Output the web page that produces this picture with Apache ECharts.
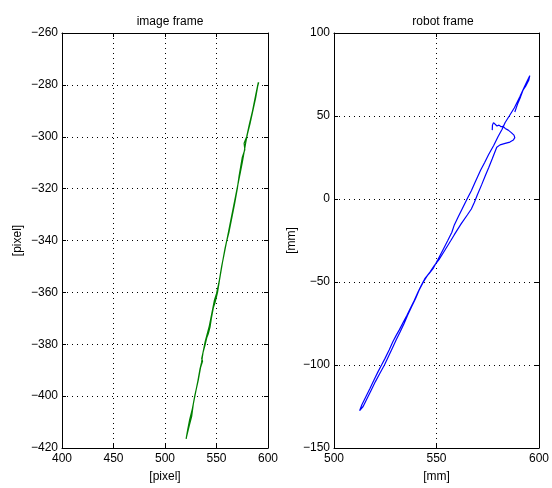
<!DOCTYPE html>
<html>
<head>
<meta charset="utf-8">
<script src="https://cdn.jsdelivr.net/npm/echarts@6/dist/echarts.min.js"></script>
<style>
html,body{margin:0;padding:0;background:#fff;}
#c{width:552px;height:488px;}
</style>
</head>
<body>
<div id="c"></div>
<script>
// ---- Left subplot: image frame (pixel) ----
const imgX = [590.6,588,585,582,579.3,576.8,577.5,575,572,570.2,567.5,565,562,560,558.3,556,553,551,548.5,546.9,545,543.7,542,540.5,538.8,537,535.6,536.5,534.5,532.3,530.5,529.1,527.5,525.9,523.5,521,520.5,
  522,524,526.5,528.5,530,532,534,535.5,537,539,541,543,544.5,546,548,550,552.5,555,557,559,561,563,566,568.5,571,573,575,577,578.5,580,582.5,585,588,590,591];
const imgY = [-279,-284,-290,-295,-300,-302.5,-305,-308,-315,-320,-326,-331,-337,-340,-343,-348,-355,-360,-364,-366,-370,-373.4,-376,-377.5,-380.4,-383,-385.5,-386.5,-389,-393.8,-397,-399.5,-403,-407.8,-411.5,-415.5,-416.5,
  -413,-409,-405,-401,-398,-394,-389.5,-387,-383,-379,-376,-373,-370,-367,-363,-360.5,-356,-350,-346,-342,-338,-334,-328,-323,-318,-314,-310,-305.5,-302,-299,-295,-290.5,-285,-280.5,-279];

// ---- Right subplot: robot frame (mm) ----
const robX = [577.2,577.3,577.8,578.5,579.5,580.5,581.5,582.5,583.5,585,586.5,587.8,588.2,587.5,585.8,583.5,581,579.4,578.8,
  577.2,575.5,573.9,572,569.9,568.5,567,565.1,562,558.7,557,554,551.5,549,546.8,545.6,543.6,541.5,539.8,537.8,535.9,534.2,532.3,530.3,528.4,526.5,524.6,522.4,520.2,518.2,516.2,514.2,512.5,511.8,
  512.3,513.6,515.6,517.6,519.5,521.5,523.2,524.9,526.9,528.7,530.4,531.8,533.9,535.6,537.2,539.2,541.0,542.6,544.3,545.3,546.4,548.3,550.7,553,555.5,557.5,558.7,560.5,562.5,565.1,567,569,571.5,573.5,575.5,577.9,580,582,583.5,585.5,588,590.6,592.5,594,595.5,
  595,593.5,592.2,591,589.5,588.2];
const robY = [41.5,44.5,46,45,44,44.5,43.5,43.8,42.5,41.5,40,38.5,37,35.5,34.3,33.5,32.6,31.2,30.2,
  24.2,19,14.3,8.5,2.4,-2,-6,-9.5,-15,-21.5,-25,-31,-36,-40,-44,-46,-50,-55,-60,-65,-70,-75,-80,-85,-90,-95,-100,-105,-110,-115,-120,-125,-127.5,-128.5,
  -127,-124,-119,-114,-109,-104,-100,-96,-91,-86,-82,-79,-74,-70,-66,-61,-56,-52,-48,-46.5,-45,-42,-36.5,-31,-25,-20,-15.6,-11,-6,0.4,5,10.5,17.3,22,27,32.2,37.5,42,46.1,50,55,61.5,66.5,70.5,74.3,
  71.5,68,65.5,61.5,57,52.4];

const titles = ['image frame', 'robot frame'];
const xNames = ['[pixel]', '[mm]'];
const yNames = ['[pixel]', '[mm]'];
const xRanges = [[400, 600, 50], [500, 600, 50]];
const yRanges = [[-420, -260, 20], [-150, 100, 50]];

const FONT = 'Liberation Sans';
const minus = v => String(v).replace('-', '\u2212');

function zip(a, b) { return a.map((v, i) => [v, b[i]]); }

const grids = [
  {left: 62, top: 33, width: 206, height: 419},
  {left: 334, top: 33, width: 209, height: 419}
];

const xAxes = [], yAxes = [];
for (let i = 0; i < 2; i++) {
  const [xmin, xmax, xi] = xRanges[i];
  const [ymin, ymax, yi] = yRanges[i];
  xAxes.push({
    type: 'value', gridIndex: i, position: 'bottom', min: xmin, max: xmax, interval: xi,
    name: xNames[i], nameLocation: 'middle', nameGap: 23,
    nameTextStyle: {fontFamily: FONT, fontSize: 12, color: '#000'},
    axisLine: {show: true, onZero: false, lineStyle: {color: '#000', width: 1}},
    axisTick: {show: true, inside: true, length: 4, lineStyle: {color: '#000'}},
    axisLabel: {fontFamily: FONT, fontSize: 12, color: '#000', margin: 5, formatter: minus},
    splitLine: {show: true, lineStyle: {color: '#000', type: [1, 4], width: 1}}
  });
  xAxes.push({
    type: 'value', gridIndex: i, position: 'top', min: xmin, max: xmax, interval: xi,
    axisLine: {show: true, onZero: false, lineStyle: {color: '#000', width: 1}},
    axisTick: {show: true, inside: true, length: 4, lineStyle: {color: '#000'}},
    axisLabel: {show: false}, splitLine: {show: false}
  });
  yAxes.push({
    type: 'value', gridIndex: i, position: 'left', min: ymin, max: ymax, interval: yi,
    name: yNames[i], nameLocation: 'middle', nameGap: i === 0 ? 38 : 36,
    nameTextStyle: {fontFamily: FONT, fontSize: 12, color: '#000'},
    axisLine: {show: true, onZero: false, lineStyle: {color: '#000', width: 1}},
    axisTick: {show: true, inside: true, length: 4, lineStyle: {color: '#000'}},
    axisLabel: {fontFamily: FONT, fontSize: 12, color: '#000', margin: 4, formatter: minus},
    splitLine: {show: true, lineStyle: {color: '#000', type: [1, 4], width: 1}}
  });
  yAxes.push({
    type: 'value', gridIndex: i, position: 'right', min: ymin, max: ymax, interval: yi,
    axisLine: {show: true, onZero: false, lineStyle: {color: '#000', width: 1}},
    axisTick: {show: true, inside: true, length: 4, lineStyle: {color: '#000'}},
    axisLabel: {show: false}, splitLine: {show: false}
  });
}

const chart = echarts.init(document.getElementById('c'), null, {renderer: 'canvas'});
chart.setOption({
  animation: false,
  backgroundColor: '#fff',
  title: [
    {text: titles[0], left: 165, top: 11, textAlign: 'center',
     textStyle: {fontFamily: FONT, fontSize: 12, fontWeight: 'normal', color: '#000'}},
    {text: titles[1], left: 438, top: 11, textAlign: 'center',
     textStyle: {fontFamily: FONT, fontSize: 12, fontWeight: 'normal', color: '#000'}}
  ],
  grid: grids,
  xAxis: xAxes,
  yAxis: yAxes,
  series: [
    {type: 'line', xAxisIndex: 0, yAxisIndex: 0, data: zip(imgX, imgY), showSymbol: false,
     lineStyle: {color: '#008000', width: 1.2}, clip: true},
    {type: 'line', xAxisIndex: 2, yAxisIndex: 2, data: zip(robX, robY), showSymbol: false,
     lineStyle: {color: '#0000ff', width: 1.2}, clip: true}
  ]
});
</script>
</body>
</html>
